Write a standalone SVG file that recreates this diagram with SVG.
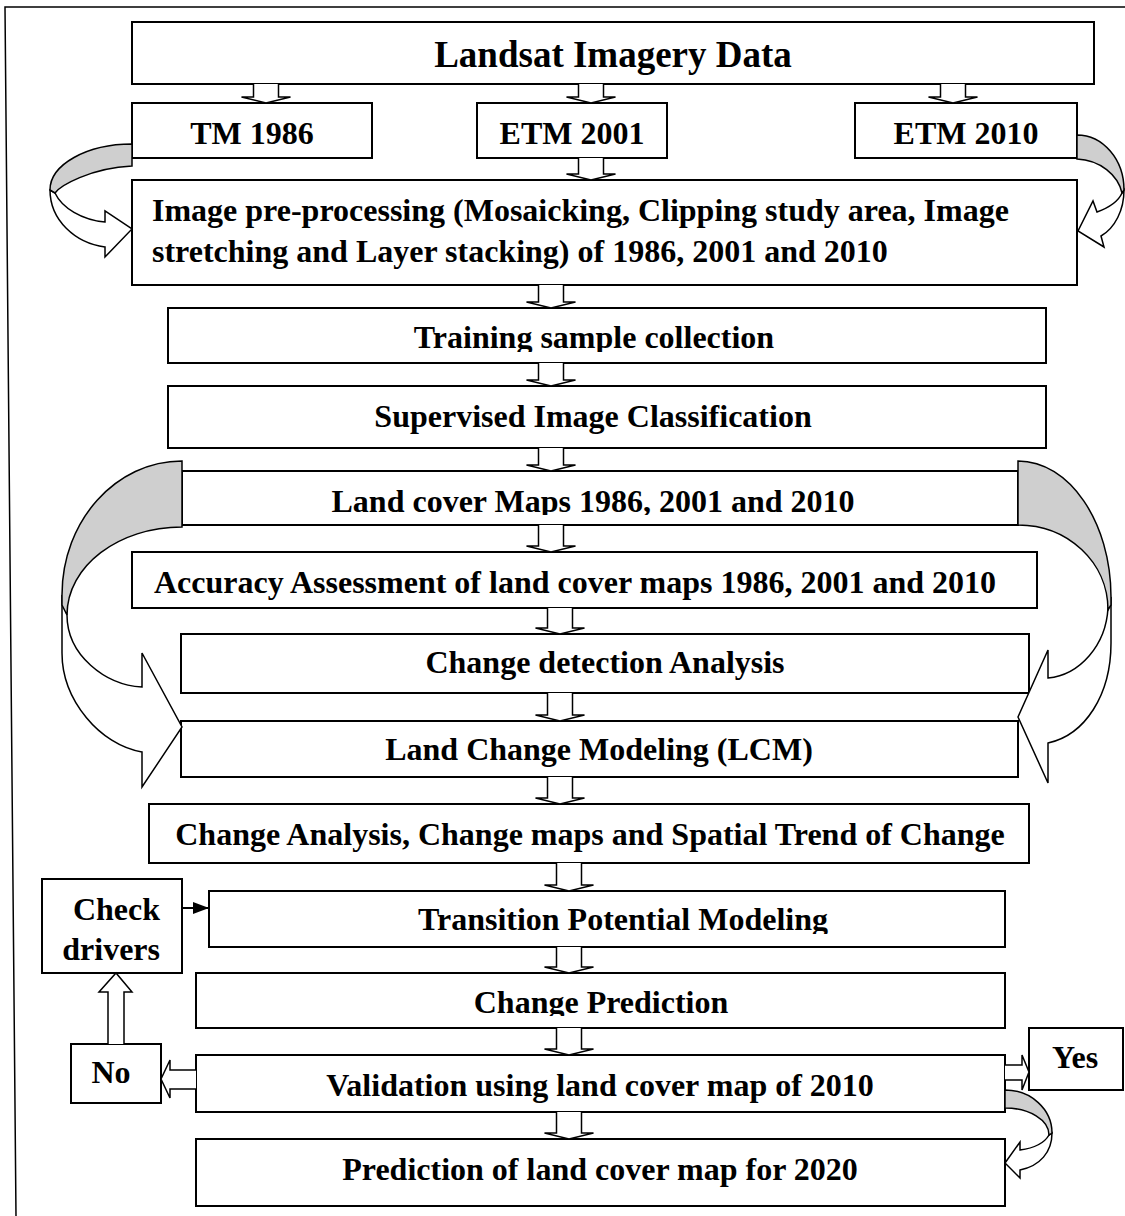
<svg xmlns="http://www.w3.org/2000/svg" width="1125" height="1216" viewBox="0 0 1125 1216">
<style>
.box{fill:#fff;stroke:#000;stroke-width:2}
.arr{fill:#fff;stroke:#000;stroke-width:1.5;stroke-linejoin:miter}
.gray{fill:#cfcfcf;stroke:#000;stroke-width:1.5;stroke-linejoin:miter}
.t{font-family:"Liberation Serif","Times New Roman",serif;font-weight:bold;font-size:32px;fill:#000}
.c{text-anchor:middle}
</style>
<defs>
<marker id="tri" markerWidth="16" markerHeight="12" refX="16" refY="6" orient="auto" markerUnits="userSpaceOnUse">
<path d="M0,0 L16,6 L0,12 Z" fill="#000"/>
</marker>
<clipPath id="clipTrain"><rect x="168" y="308" width="878" height="44"/></clipPath>
<clipPath id="clipLand"><rect x="182" y="471" width="836" height="44"/></clipPath>
<clipPath id="clipTrans"><rect x="209" y="891" width="796" height="43"/></clipPath>
<clipPath id="clipPred"><rect x="196" y="973" width="809" height="43"/></clipPath>
</defs>

<path d="M1125,7 H5 L16,1216" fill="none" stroke="#000" stroke-width="1.5"/>

<g id="n-landsat"><rect class="box" x="132" y="22" width="962" height="62"/><text class="t c" x="613" y="67" style="font-size:37px">Landsat Imagery Data</text></g>
<g id="n-tm1986"><rect class="box" x="132" y="103" width="240" height="55"/><text class="t c" x="252" y="144">TM 1986</text></g>
<g id="n-etm2001"><rect class="box" x="477" y="103" width="190" height="55"/><text class="t c" x="572" y="144">ETM 2001</text></g>
<g id="n-etm2010"><rect class="box" x="855" y="103" width="222" height="55"/><text class="t c" x="966" y="144">ETM 2010</text></g>
<g id="n-preproc"><rect class="box" x="132" y="180" width="945" height="105"/><text class="t" x="152" y="221">Image pre-processing (Mosaicking, Clipping study area, Image</text><text class="t" x="152" y="262">stretching and Layer stacking) of 1986, 2001 and 2010</text></g>
<g id="n-training"><rect class="box" x="168" y="308" width="878" height="55"/><text class="t c" x="594" y="348" clip-path="url(#clipTrain)">Training sample collection</text></g>
<g id="n-supervised"><rect class="box" x="168" y="386" width="878" height="62"/><text class="t c" x="593" y="427">Supervised Image Classification</text></g>
<g id="n-landcover"><rect class="box" x="182" y="471" width="836" height="54"/><text class="t c" x="593" y="512" clip-path="url(#clipLand)">Land cover Maps 1986, 2001 and 2010</text></g>
<g id="n-accuracy"><rect class="box" x="132" y="552" width="905" height="56"/><text class="t c" x="575" y="593">Accuracy Assessment of land cover maps 1986, 2001 and 2010</text></g>
<g id="n-changedet"><rect class="box" x="181" y="634" width="848" height="59"/><text class="t c" x="605" y="673">Change detection Analysis</text></g>
<g id="n-lcm"><rect class="box" x="181" y="721" width="837" height="56"/><text class="t c" x="599" y="760">Land Change Modeling (LCM)</text></g>
<g id="n-changeanalysis"><rect class="box" x="149" y="804" width="880" height="59"/><text class="t c" x="590" y="845">Change Analysis, Change maps and Spatial Trend of Change</text></g>
<g id="n-checkdrivers"><rect class="box" x="42" y="879" width="140" height="94"/><text class="t" x="160" y="920" text-anchor="end">Check</text><text class="t" x="160" y="960" text-anchor="end">drivers</text></g>
<g id="n-transition"><rect class="box" x="209" y="891" width="796" height="56"/><text class="t c" x="623" y="930" clip-path="url(#clipTrans)">Transition Potential Modeling</text></g>
<g id="n-changepred"><rect class="box" x="196" y="973" width="809" height="55"/><text class="t c" x="601" y="1013" clip-path="url(#clipPred)">Change Prediction</text></g>
<g id="n-validation"><rect class="box" x="196" y="1055" width="809" height="57"/><text class="t c" x="600" y="1096">Validation using land cover map of 2010</text></g>
<g id="n-prediction"><rect class="box" x="196" y="1139" width="809" height="67"/><text class="t c" x="600" y="1180">Prediction of land cover map for 2020</text></g>
<g id="n-no"><rect class="box" x="71" y="1044" width="90" height="59"/><text class="t c" x="111" y="1083">No</text></g>
<g id="n-yes"><rect class="box" x="1029" y="1028" width="94" height="62"/><text class="t c" x="1075" y="1068">Yes</text></g>

<g id="connectors">
<path class="arr" d="M253.5,84 V97 H241.5 L266,103 L290.5,97 H278.5 V84"/>
<path class="arr" d="M578.5,84 V97 H566.5 L591,103 L615.5,97 H603.5 V84"/>
<path class="arr" d="M940.5,84 V97 H928.5 L953,103 L977.5,97 H965.5 V84"/>
<path class="arr" d="M578.5,158 V174 H566.5 L591,180 L615.5,174 H603.5 V158"/>
<path class="arr" d="M538.5,285 V302 H526.5 L551,308 L575.5,302 H563.5 V285"/>
<path class="arr" d="M538.5,363 V380 H526.5 L551,386 L575.5,380 H563.5 V363"/>
<path class="arr" d="M538.5,448 V465 H526.5 L551,471 L575.5,465 H563.5 V448"/>
<path class="arr" d="M538.5,525 V546 H526.5 L551,552 L575.5,546 H563.5 V525"/>
<path class="arr" d="M547.5,608 V628 H535.5 L560,634 L584.5,628 H572.5 V608"/>
<path class="arr" d="M547.5,693 V715 H535.5 L560,721 L584.5,715 H572.5 V693"/>
<path class="arr" d="M547.5,777 V798 H535.5 L560,804 L584.5,798 H572.5 V777"/>
<path class="arr" d="M556.5,863 V885 H544.5 L569,891 L593.5,885 H581.5 V863"/>
<path class="arr" d="M556.5,947 V967 H544.5 L569,973 L593.5,967 H581.5 V947"/>
<path class="arr" d="M556.5,1028 V1049 H544.5 L569,1055 L593.5,1049 H581.5 V1028"/>
<path class="arr" d="M556.5,1112 V1133 H544.5 L569,1139 L593.5,1133 H581.5 V1112"/>

<path class="arr" d="M1005,1065 H1022 V1055 L1029,1072 L1022,1090 V1080 H1005"/>
<path class="arr" d="M196,1070 H170 V1060 L161,1079 L170,1098 V1089 H196"/>
<path class="arr" d="M108,1044 V992 H99 L116,973 L132,992 H124 V1044"/>
<line x1="182" y1="908" x2="209" y2="908" stroke="#000" stroke-width="2" marker-end="url(#tri)"/>

<path class="arr" d="M55,193 C62,208 82,220 105,222 L105,211 L132,229 L105,257 L105,247 C75,243 50,220 50,190 Z"/>
<path class="gray" d="M132,144 C86.7,144 50,164.6 50,190 L55,193 C60,186 90,168 132,166 Z"/>

<path class="arr" d="M1124,190 C1124,210 1115,228 1101,236 L1104,247 L1078,231 L1093,201 L1097,212 C1108,208 1118,202 1122,193 Z"/>
<path class="gray" d="M1077,135 C1103,135 1124,159.6 1124,190 L1122,193 C1118,175 1100,160 1077,159 Z"/>

<path class="arr" d="M62,595 L62,653 C62,700 100,745 142,752 L142,787 L182,727 L142,653 L142,687 C105,685 67,655 67,615 Z"/>
<path class="gray" d="M182,461 C115.8,461 62,521 62,595 L62,605 L67,615 C67,566 118.5,527 182,527 Z"/>

<path class="arr" d="M1111,597 L1111,643 C1111,695 1085,735 1048,743 L1048,783 L1018,717 L1048,650 L1048,678 C1080,675 1106,645 1108,608 Z"/>
<path class="gray" d="M1018,461 C1069.3,461 1111,522 1111,597 L1111,605 L1108,610 C1108,562.2 1067.7,525 1018,525 Z"/>

<path class="arr" d="M1052,1133 C1052,1152 1040,1166 1020,1170 L1020,1178 L1005,1163 L1020,1142 L1020,1150 C1035,1148 1045,1142 1049,1135 Z"/>
<path class="gray" d="M1005,1090 C1031,1090 1052,1109.3 1052,1133 L1049,1135 C1049,1120 1029.3,1108 1005,1108 Z"/>
</g>
</svg>
